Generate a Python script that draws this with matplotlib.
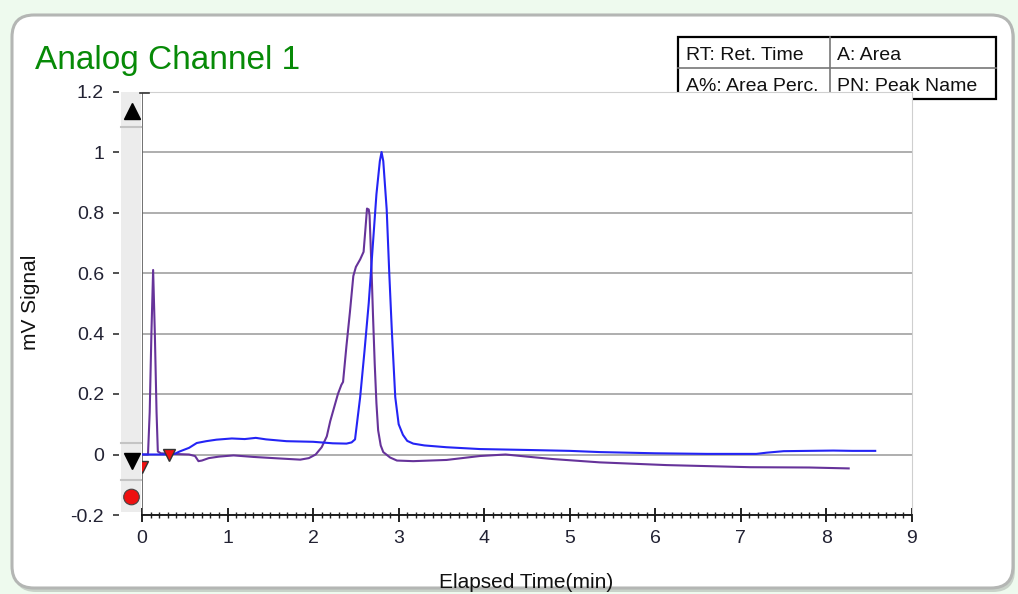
import matplotlib.pyplot as plt
import numpy as np
from matplotlib.patches import FancyBboxPatch, Rectangle, Circle
from matplotlib.lines import Line2D
from matplotlib.transforms import IdentityTransform
from matplotlib.ticker import MultipleLocator

plt.rcParams['font.family'] = ['Liberation Sans', 'DejaVu Sans']

# canale 1 - traccia blu
t_blu = [0.0, 0.30, 0.38, 0.44, 0.55, 0.64, 0.75, 0.87, 1.05, 1.20, 1.33, 1.45,
         1.69, 2.0, 2.23, 2.39, 2.45, 2.49, 2.55, 2.60, 2.65, 2.70, 2.74, 2.78,
         2.80, 2.82, 2.86, 2.89, 2.92, 2.96, 3.00, 3.05, 3.10, 3.17, 3.30, 3.56,
         3.95, 4.50, 5.00, 5.35, 6.00, 6.60, 7.18, 7.30, 7.50, 8.08, 8.30, 8.57]
y_blu = [0.0, 0.0, 0.002, 0.01, 0.022, 0.038, 0.044, 0.049, 0.053, 0.051, 0.055, 0.050,
         0.044, 0.042, 0.037, 0.036, 0.040, 0.050, 0.19, 0.34, 0.50, 0.70, 0.86, 0.97,
         1.0, 0.97, 0.81, 0.60, 0.41, 0.19, 0.10, 0.065, 0.045, 0.036, 0.030, 0.024,
         0.018, 0.015, 0.012, 0.008, 0.004, 0.002, 0.002, 0.006, 0.011, 0.013, 0.012, 0.012]

# canale 1 - traccia viola
t_viola = [0.0, 0.07, 0.09, 0.11, 0.13, 0.15, 0.17, 0.185, 0.22, 0.35, 0.55, 0.62,
           0.66, 0.70, 0.78, 0.90, 1.07, 1.30, 1.60, 1.85, 1.95, 2.03, 2.10, 2.16,
           2.20, 2.25, 2.29, 2.33, 2.35, 2.37, 2.39, 2.43, 2.47, 2.50, 2.55, 2.59,
           2.61, 2.63, 2.65, 2.66, 2.68, 2.70, 2.72, 2.74, 2.76, 2.79, 2.82, 2.90,
           2.98, 3.17, 3.56, 3.95, 4.25, 4.50, 4.80, 5.35, 6.13, 7.11, 7.80, 8.26]
y_viola = [0.0, 0.0, 0.14, 0.40, 0.61, 0.40, 0.14, 0.01, 0.004, 0.002, 0.0, -0.005,
           -0.022, -0.02, -0.012, -0.007, -0.003, -0.008, -0.013, -0.017, -0.012, 0.0, 0.024, 0.06,
           0.11, 0.16, 0.20, 0.23, 0.24, 0.30, 0.36, 0.47, 0.59, 0.62, 0.645, 0.67,
           0.74, 0.813, 0.81, 0.79, 0.636, 0.46, 0.30, 0.17, 0.08, 0.03, 0.008, -0.01,
           -0.02, -0.022, -0.018, -0.005, 0.0, -0.007, -0.015, -0.026, -0.035, -0.042, -0.043, -0.046]

# marcatori dei picchi
t_picchi = [0.0, 0.31]
y_picchi = [-0.04, 0.0]

y_ticks = [-0.2, 0, 0.2, 0.4, 0.6, 0.8, 1, 1.2]
y_labels = ['-0.2', '0', '0.2', '0.4', '0.6', '0.8', '1', '1.2']
x_ticks = [0, 1, 2, 3, 4, 5, 6, 7, 8, 9]

legenda = [['RT: Ret. Time', 'A: Area'], ['A%: Area Perc.', 'PN: Peak Name']]

W, H = 1018, 594
pix = IdentityTransform()


def yp(y):
    # da coordinate immagine (y verso il basso) a coordinate display
    return H - y


fig = plt.figure(figsize=(W / 100, H / 100), dpi=100)
fig.patch.set_facecolor('#eefaee')

# ombra e pannello bianco con bordo arrotondato
ombra = FancyBboxPatch((14, yp(592)), 1001, 575, boxstyle='round,pad=0,rounding_size=22',
                       transform=pix, facecolor='#c9d2c9', edgecolor='none', zorder=-4)
fig.add_artist(ombra)
pannello = FancyBboxPatch((12, yp(588)), 1001, 573, boxstyle='round,pad=0,rounding_size=22',
                          transform=pix, facecolor='white', edgecolor='#b4b6b4',
                          linewidth=2.2, zorder=-3)
fig.add_artist(pannello)

# tabella legenda (sotto l'area del grafico)
x0, x1, xm = 678, 996, 830
y0, y1, ym = 37, 99, 68
fig.add_artist(Rectangle((x0, yp(y1)), x1 - x0, y1 - y0, transform=pix,
                         facecolor='white', edgecolor='black', linewidth=1.6, zorder=-2))
fig.add_artist(Line2D([xm, xm], [yp(y0), yp(y1)], transform=pix, color='#777777', lw=1.2, zorder=-1))
fig.add_artist(Line2D([x0, x1], [yp(ym), yp(ym)], transform=pix, color='#777777', lw=1.2, zorder=-1))
for r, riga in enumerate(legenda):
    yc = (y0 + ym) / 2 + 3 if r == 0 else (ym + y1) / 2 + 3
    for c, testo in enumerate(riga):
        xt = x0 + 8 if c == 0 else xm + 7
        fig.text(xt, yp(yc), testo, transform=pix, fontsize=14, va='center', ha='left',
                 color='#111111', zorder=-1)

ax = fig.add_axes([142 / W, 1 - 515 / H, (912 - 142) / W, (515 - 91.5) / H])
ax.set_facecolor('white')

ax.plot(t_viola, y_viola, color='#66339a', lw=1.5, zorder=3)
ax.plot(t_blu, y_blu, color='#2424f5', lw=1.5, zorder=4)
ax.plot(t_picchi, y_picchi, linestyle='none', marker='v', markersize=9,
        markerfacecolor='#ee1111', markeredgecolor='#333333', markeredgewidth=1.0, zorder=5)

ax.set_xlim(0, 9)
ax.set_ylim(-0.2, 1.2)
ax.set_yticks(y_ticks)
ax.set_yticklabels(y_labels)
ax.set_xticks(x_ticks)
ax.xaxis.set_minor_locator(MultipleLocator(0.1))
ax.grid(axis='y', color='#a8a8a8', lw=1.3)
ax.set_axisbelow(True)

ax.spines['top'].set_color('#d0d0d0')
ax.spines['right'].set_color('#cfcfcf')
ax.spines['bottom'].set_color('#111111')
ax.spines['bottom'].set_linewidth(1.3)
ax.spines['left'].set_position(('outward', 16.5))
ax.spines['left'].set_visible(False)
ax.axvline(0, color='#666666', lw=1.3, zorder=2)

ax.tick_params(axis='x', which='major', direction='inout', length=10, width=1.3,
               color='#111111', labelsize=14, labelcolor='#222233', pad=6)
ax.tick_params(axis='x', which='minor', direction='inout', length=4, width=1.0, color='#222222')
ax.tick_params(axis='y', direction='out', length=4.3, width=1.2, color='#333333',
               labelsize=14, labelcolor='#222233', pad=6.5)

# barra di scorrimento a sinistra
fig.add_artist(Rectangle((121, yp(512)), 20, 420, transform=pix, facecolor='#ececec',
                         edgecolor='none', zorder=6))
for ys in [127, 443, 480]:
    fig.add_artist(Line2D([121, 141], [yp(ys), yp(ys)], transform=pix, color='#c4c4c4',
                          lw=1.5, zorder=7))
fig.add_artist(Line2D([140, 149], [yp(93), yp(93)], transform=pix, color='#333333',
                      lw=1.2, zorder=7))
fig.add_artist(Line2D([131.5], [yp(111)], transform=pix, marker='^', markersize=11,
                      color='black', zorder=7))
fig.add_artist(Line2D([131.5], [yp(461)], transform=pix, marker='v', markersize=11,
                      color='black', zorder=7))
fig.add_artist(Circle((131.5, yp(497)), 7.8, transform=pix, facecolor='#ee1111',
                      edgecolor='#444444', lw=0.8, zorder=7))

fig.text(35, yp(60), 'Analog Channel 1', transform=pix, fontsize=24, color='#078a07',
         va='center', ha='left')
fig.text(31, yp(302), 'mV Signal', transform=pix, fontsize=15, rotation=90,
         va='center', ha='center', color='#111111')
fig.text(526, yp(582), 'Elapsed Time(min)', transform=pix, fontsize=15,
         va='center', ha='center', color='#111111')

fig.savefig('out.png', dpi=100, facecolor=fig.get_facecolor())
